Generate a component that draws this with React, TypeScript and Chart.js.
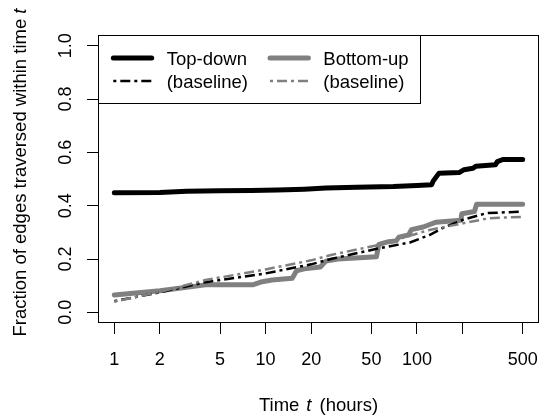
import React, { useEffect, useRef } from 'react';
import { Chart, registerables } from 'chart.js';

Chart.register(...registerables);

// ---- Data ----
const X_TICKS = [1, 2, 5, 10, 20, 50, 100, 200, 500];
const X_TICK_LABELS = ['1', '2', '5', '10', '20', '50', '100', '', '500'];
const Y_TICKS = [0, 0.2, 0.4, 0.6, 0.8, 1.0];
const Y_TICK_LABELS = ['0.0', '0.2', '0.4', '0.6', '0.8', '1.0'];

const topDownT = [1, 2, 3, 5, 8, 12, 18, 25, 40, 70, 100, 125, 128, 140, 190, 205, 235, 245, 330, 340, 370, 500];
const topDownV = [0.448, 0.449, 0.454, 0.456, 0.457, 0.459, 0.462, 0.466, 0.469, 0.472, 0.476, 0.478, 0.492, 0.522, 0.524, 0.535, 0.54, 0.548, 0.553, 0.565, 0.573, 0.573];

const bottomUpT = [1, 2, 4, 8.2, 9.5, 11, 15, 16, 18, 23, 25, 30, 54, 56, 65, 73, 76, 88, 92, 110, 134, 195, 198, 240, 248, 500];
const bottomUpV = [0.065, 0.081, 0.103, 0.103, 0.115, 0.121, 0.128, 0.156, 0.163, 0.17, 0.192, 0.2, 0.208, 0.255, 0.265, 0.268, 0.282, 0.29, 0.31, 0.32, 0.338, 0.345, 0.37, 0.378, 0.405, 0.405];

const topDownBaseT = [1, 2, 4, 10, 20, 27, 56, 90, 121, 150, 202, 289, 500];
const topDownBaseV = [0.042, 0.075, 0.113, 0.146, 0.18, 0.2, 0.24, 0.262, 0.29, 0.318, 0.347, 0.372, 0.378];

const bottomUpBaseT = [1, 2, 4, 10, 20, 27, 56, 121, 202, 300, 500];
const bottomUpBaseV = [0.04, 0.077, 0.121, 0.161, 0.195, 0.215, 0.253, 0.309, 0.334, 0.353, 0.358];

const LEGEND_LABELS = ['Top-down', 'Bottom-up', '(baseline)', '(baseline)'];

// ---- Styles ----
const FONT_FAMILY = '"Liberation Sans", Arial, Helvetica, sans-serif';
const TICK_FONT = 18;
const TEXT_FONT = 18.5;
const GRAY = '#808080';
const DASH = [3, 4, 10, 4];

const pts = (t: number[], v: number[]) => t.map((x, i) => ({ x, y: v[i] }));

function drawMixed(
  ctx: CanvasRenderingContext2D,
  pieces: { text: string; italic: boolean; gapAfter?: number }[],
  cx: number,
  y: number,
  size: number
) {
  const widths = pieces.map((p) => {
    ctx.font = `${p.italic ? 'italic ' : ''}${size}px ${FONT_FAMILY}`;
    return ctx.measureText(p.text).width + (p.gapAfter || 0);
  });
  const total = widths.reduce((s, w) => s + w, 0);
  let x = cx - total / 2;
  ctx.textAlign = 'left';
  pieces.forEach((p, i) => {
    ctx.font = `${p.italic ? 'italic ' : ''}${size}px ${FONT_FAMILY}`;
    ctx.fillText(p.text, x, y);
    x += widths[i];
  });
}

const rStylePlugin = {
  id: 'rStyle',
  afterDraw(chart: any) {
    const { ctx, chartArea: a, scales } = chart;
    const xs = scales.x;
    const ys = scales.y;
    ctx.save();
    // plot box
    ctx.strokeStyle = '#000';
    ctx.lineWidth = 1;
    ctx.setLineDash([]);
    ctx.strokeRect(a.left + 0.5, a.top + 0.5, a.right - a.left - 1, a.bottom - a.top - 1);

    ctx.fillStyle = '#000';
    ctx.textBaseline = 'alphabetic';
    // x tick labels
    ctx.font = `${TICK_FONT}px ${FONT_FAMILY}`;
    ctx.textAlign = 'center';
    X_TICKS.forEach((v, i) => {
      const lbl = X_TICK_LABELS[i];
      if (lbl) ctx.fillText(lbl, xs.getPixelForValue(v), 365);
    });
    // y tick labels (rotated)
    Y_TICKS.forEach((v, i) => {
      ctx.save();
      ctx.translate(71, ys.getPixelForValue(v));
      ctx.rotate(-Math.PI / 2);
      ctx.textAlign = 'center';
      ctx.fillText(Y_TICK_LABELS[i], 0, 0);
      ctx.restore();
    });
    // x title
    drawMixed(
      ctx,
      [
        { text: 'Time', italic: false, gapAfter: 7 },
        { text: 't', italic: true, gapAfter: 8 },
        { text: '(hours)', italic: false },
      ],
      (a.left + a.right) / 2,
      411,
      TEXT_FONT
    );
    // y title
    ctx.save();
    ctx.translate(26, 172.5);
    ctx.rotate(-Math.PI / 2);
    drawMixed(
      ctx,
      [
        { text: 'Fraction of edges traversed within time ', italic: false },
        { text: 't', italic: true },
      ],
      0,
      0,
      TEXT_FONT
    );
    ctx.restore();

    // legend
    const lx0 = a.left;
    const ly0 = a.top;
    ctx.strokeStyle = '#000';
    ctx.lineWidth = 1;
    ctx.strokeRect(lx0 + 0.5, ly0 + 0.5, 420 - lx0, 103 - ly0);
    const ds = chart.data.datasets;
    const items = [
      { d: ds[3], lx: 113.3, tx: 166.7, ly: 58, by: 65, label: LEGEND_LABELS[0] },
      { d: ds[2], lx: 270, tx: 323.3, ly: 58, by: 65, label: LEGEND_LABELS[1] },
      { d: ds[1], lx: 113.3, tx: 166.7, ly: 81, by: 88, label: LEGEND_LABELS[2] },
      { d: ds[0], lx: 270, tx: 323.3, ly: 81, by: 88, label: LEGEND_LABELS[3] },
    ];
    items.forEach((it) => {
      ctx.save();
      ctx.strokeStyle = it.d.borderColor;
      ctx.lineWidth = it.d.borderWidth;
      ctx.setLineDash(it.d.borderDash || []);
      ctx.lineCap = it.d.borderCapStyle || 'butt';
      ctx.beginPath();
      ctx.moveTo(it.lx, it.ly);
      ctx.lineTo(it.lx + 38.4, it.ly);
      ctx.stroke();
      ctx.restore();
      ctx.font = `${TEXT_FONT}px ${FONT_FAMILY}`;
      ctx.textAlign = 'left';
      ctx.fillStyle = '#000';
      ctx.fillText(it.label, it.tx, it.by);
    });
    ctx.restore();
  },
};

export default function App() {
  const ref = useRef<HTMLCanvasElement | null>(null);
  useEffect(() => {
    if (!ref.current) return;
    const chart = new Chart(ref.current, {
      type: 'line',
      data: {
        datasets: [
          {
            label: 'Bottom-up (baseline)',
            data: pts(bottomUpBaseT, bottomUpBaseV),
            borderColor: GRAY,
            borderWidth: 2.5,
            borderDash: DASH,
            borderCapStyle: 'butt',
            pointRadius: 0,
            tension: 0,
            fill: false,
          },
          {
            label: 'Top-down (baseline)',
            data: pts(topDownBaseT, topDownBaseV),
            borderColor: '#000',
            borderWidth: 2.5,
            borderDash: DASH,
            borderCapStyle: 'butt',
            pointRadius: 0,
            tension: 0,
            fill: false,
          },
          {
            label: 'Bottom-up',
            data: pts(bottomUpT, bottomUpV),
            borderColor: GRAY,
            borderWidth: 5,
            borderCapStyle: 'round',
            borderJoinStyle: 'round',
            pointRadius: 0,
            tension: 0,
            fill: false,
          },
          {
            label: 'Top-down',
            data: pts(topDownT, topDownV),
            borderColor: '#000',
            borderWidth: 5,
            borderCapStyle: 'round',
            borderJoinStyle: 'round',
            pointRadius: 0,
            tension: 0,
            fill: false,
          },
        ],
      },
      options: {
        animation: false,
        responsive: false,
        devicePixelRatio: 1,
        layout: { padding: { top: 35, left: 0, right: 0, bottom: 0 } },
        plugins: { legend: { display: false }, tooltip: { enabled: false } },
        scales: {
          x: {
            type: 'logarithmic',
            min: 0.78,
            max: 641,
            afterBuildTicks: (s: any) => {
              s.ticks = X_TICKS.map((v) => ({ value: v }));
            },
            afterFit: (s: any) => {
              s.height = 93;
            },
            ticks: { display: false },
            border: { display: false },
            grid: {
              display: true,
              drawOnChartArea: false,
              drawTicks: true,
              tickLength: 11,
              color: '#000',
              lineWidth: 1,
            },
          },
          y: {
            type: 'linear',
            min: -0.04,
            max: 1.04,
            afterBuildTicks: (s: any) => {
              s.ticks = Y_TICKS.map((v) => ({ value: v }));
            },
            afterFit: (s: any) => {
              s.width = 98;
            },
            ticks: { display: false },
            border: { display: false },
            grid: {
              display: true,
              drawOnChartArea: false,
              drawTicks: true,
              tickLength: 11,
              color: '#000',
              lineWidth: 1,
            },
          },
        },
      },
      plugins: [rStylePlugin],
    } as any);
    return () => chart.destroy();
  }, []);
  return (
    <div style={{ position: 'absolute', left: 0, top: 0, width: 539, height: 416, background: '#fff' }}>
      <canvas ref={ref} width={539} height={416} style={{ display: 'block' }} />
    </div>
  );
}
